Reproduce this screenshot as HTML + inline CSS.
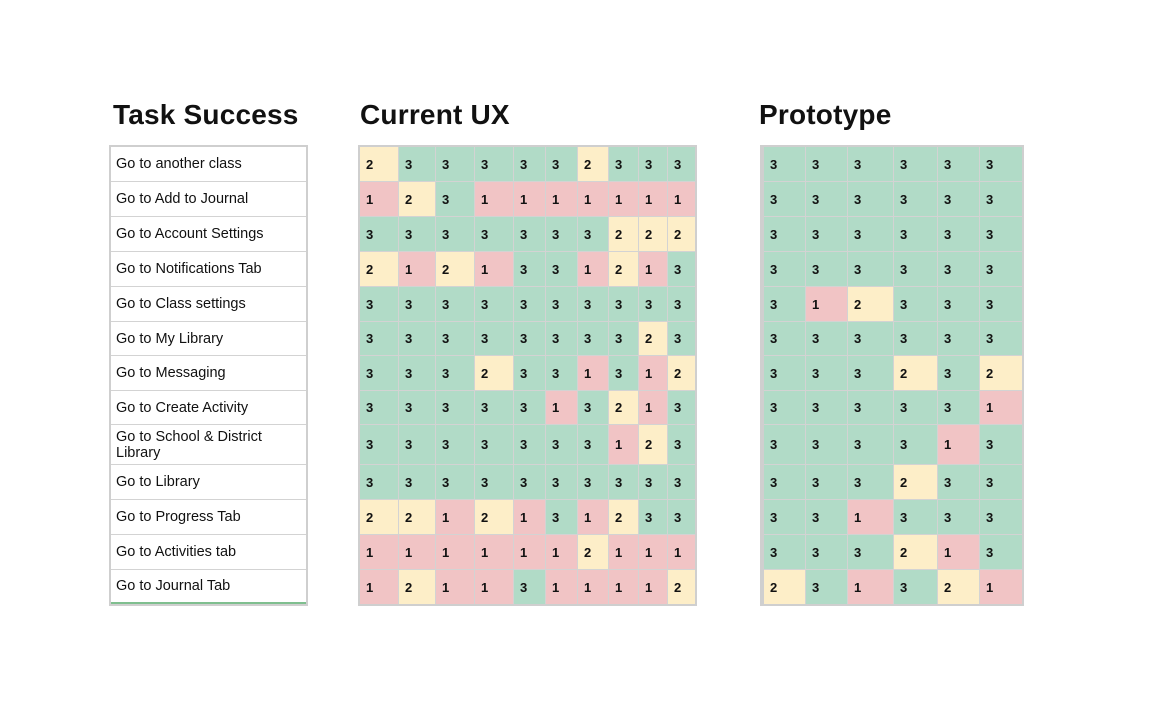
<!DOCTYPE html>
<html><head><meta charset="utf-8"><style>
body{margin:0;width:1153px;height:721px;background:#fff;font-family:"Liberation Sans",sans-serif;position:relative;overflow:hidden}
h1{position:absolute;margin:0;font-size:28px;font-weight:bold;color:#111;top:99px;letter-spacing:0.2px}
.g{position:absolute;display:grid;grid-template-rows:34px 34px 34px 34px 34px 33px 34px 33px 39px 34px 34px 34px 34px;background:#d3d3d3;gap:1px;border:2px solid #cfcfcf;box-sizing:content-box}
.g div{display:flex;align-items:center;padding-left:6px;font-size:13px;font-weight:bold;color:#111}
.a{background:#b1dbc7}.b{background:#fdeec8}.c{background:#f1c4c5}
.l div{background:#fff;font-weight:normal;font-size:14.5px;color:#111;line-height:16px;padding-left:5px}
</style></head><body>
<h1 style="left:113px">Task Success</h1>
<h1 style="left:360px">Current UX</h1>
<h1 style="left:759px">Prototype</h1>

<div class="g l" style="left:109px;top:145px;width:195px;grid-template-columns:195px">
<div>Go to another class</div><div>Go to Add to Journal</div><div>Go to Account Settings</div><div>Go to Notifications Tab</div><div>Go to Class settings</div><div>Go to My Library</div><div>Go to Messaging</div><div>Go to Create Activity</div><div>Go to School &amp; District Library</div><div>Go to Library</div><div>Go to Progress Tab</div><div>Go to Activities tab</div><div style="border-bottom:2px solid #7fbf8f">Go to Journal Tab</div>
</div>

<div class="g" style="left:358px;top:145px;grid-template-columns:38px 36px 38px 38px 31px 31px 30px 29px 28px 27px">
<div class="b">2</div><div class="a">3</div><div class="a">3</div><div class="a">3</div><div class="a">3</div><div class="a">3</div><div class="b">2</div><div class="a">3</div><div class="a">3</div><div class="a">3</div>
<div class="c">1</div><div class="b">2</div><div class="a">3</div><div class="c">1</div><div class="c">1</div><div class="c">1</div><div class="c">1</div><div class="c">1</div><div class="c">1</div><div class="c">1</div>
<div class="a">3</div><div class="a">3</div><div class="a">3</div><div class="a">3</div><div class="a">3</div><div class="a">3</div><div class="a">3</div><div class="b">2</div><div class="b">2</div><div class="b">2</div>
<div class="b">2</div><div class="c">1</div><div class="b">2</div><div class="c">1</div><div class="a">3</div><div class="a">3</div><div class="c">1</div><div class="b">2</div><div class="c">1</div><div class="a">3</div>
<div class="a">3</div><div class="a">3</div><div class="a">3</div><div class="a">3</div><div class="a">3</div><div class="a">3</div><div class="a">3</div><div class="a">3</div><div class="a">3</div><div class="a">3</div>
<div class="a">3</div><div class="a">3</div><div class="a">3</div><div class="a">3</div><div class="a">3</div><div class="a">3</div><div class="a">3</div><div class="a">3</div><div class="b">2</div><div class="a">3</div>
<div class="a">3</div><div class="a">3</div><div class="a">3</div><div class="b">2</div><div class="a">3</div><div class="a">3</div><div class="c">1</div><div class="a">3</div><div class="c">1</div><div class="b">2</div>
<div class="a">3</div><div class="a">3</div><div class="a">3</div><div class="a">3</div><div class="a">3</div><div class="c">1</div><div class="a">3</div><div class="b">2</div><div class="c">1</div><div class="a">3</div>
<div class="a">3</div><div class="a">3</div><div class="a">3</div><div class="a">3</div><div class="a">3</div><div class="a">3</div><div class="a">3</div><div class="c">1</div><div class="b">2</div><div class="a">3</div>
<div class="a">3</div><div class="a">3</div><div class="a">3</div><div class="a">3</div><div class="a">3</div><div class="a">3</div><div class="a">3</div><div class="a">3</div><div class="a">3</div><div class="a">3</div>
<div class="b">2</div><div class="b">2</div><div class="c">1</div><div class="b">2</div><div class="c">1</div><div class="a">3</div><div class="c">1</div><div class="b">2</div><div class="a">3</div><div class="a">3</div>
<div class="c">1</div><div class="c">1</div><div class="c">1</div><div class="c">1</div><div class="c">1</div><div class="c">1</div><div class="b">2</div><div class="c">1</div><div class="c">1</div><div class="c">1</div>
<div class="c">1</div><div class="b">2</div><div class="c">1</div><div class="c">1</div><div class="a">3</div><div class="c">1</div><div class="c">1</div><div class="c">1</div><div class="c">1</div><div class="b">2</div>
</div>

<div class="g" style="left:760px;top:145px;border-left-width:4px;grid-template-columns:41px 41px 45px 43px 41px 42px">
<div class="a">3</div><div class="a">3</div><div class="a">3</div><div class="a">3</div><div class="a">3</div><div class="a">3</div>
<div class="a">3</div><div class="a">3</div><div class="a">3</div><div class="a">3</div><div class="a">3</div><div class="a">3</div>
<div class="a">3</div><div class="a">3</div><div class="a">3</div><div class="a">3</div><div class="a">3</div><div class="a">3</div>
<div class="a">3</div><div class="a">3</div><div class="a">3</div><div class="a">3</div><div class="a">3</div><div class="a">3</div>
<div class="a">3</div><div class="c">1</div><div class="b">2</div><div class="a">3</div><div class="a">3</div><div class="a">3</div>
<div class="a">3</div><div class="a">3</div><div class="a">3</div><div class="a">3</div><div class="a">3</div><div class="a">3</div>
<div class="a">3</div><div class="a">3</div><div class="a">3</div><div class="b">2</div><div class="a">3</div><div class="b">2</div>
<div class="a">3</div><div class="a">3</div><div class="a">3</div><div class="a">3</div><div class="a">3</div><div class="c">1</div>
<div class="a">3</div><div class="a">3</div><div class="a">3</div><div class="a">3</div><div class="c">1</div><div class="a">3</div>
<div class="a">3</div><div class="a">3</div><div class="a">3</div><div class="b">2</div><div class="a">3</div><div class="a">3</div>
<div class="a">3</div><div class="a">3</div><div class="c">1</div><div class="a">3</div><div class="a">3</div><div class="a">3</div>
<div class="a">3</div><div class="a">3</div><div class="a">3</div><div class="b">2</div><div class="c">1</div><div class="a">3</div>
<div class="b">2</div><div class="a">3</div><div class="c">1</div><div class="a">3</div><div class="b">2</div><div class="c">1</div>
</div>
</body></html>
